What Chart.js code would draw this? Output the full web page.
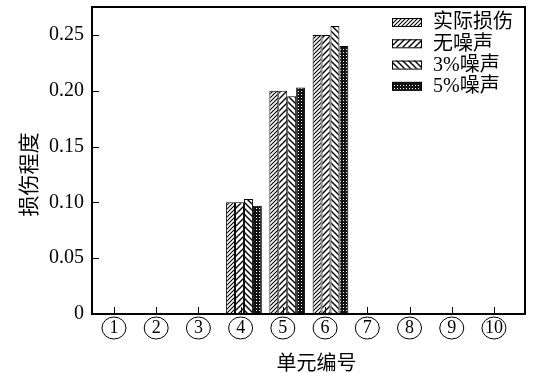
<!DOCTYPE html>
<html><head><meta charset="utf-8">
<script src="https://cdn.jsdelivr.net/npm/chart.js@4.4.1/dist/chart.umd.min.js"></script>
<style>html,body{margin:0;padding:0;background:#fff;}#wrap{width:537px;height:373px;}</style>
</head><body><div id="wrap"><canvas id="c" width="537" height="373"></canvas></div>
<script>
// ---- data ----
const categories = [1, 2, 3, 4, 5, 6, 7, 8, 9, 10];
const seriesNames = ['实际损伤', '无噪声', '3%噪声', '5%噪声'];
const actualDamage = [0, 0, 0, 0.100, 0.200, 0.250, 0, 0, 0, 0];
const noNoise      = [0, 0, 0, 0.100, 0.200, 0.250, 0, 0, 0, 0];
const noise3       = [0, 0, 0, 0.103, 0.195, 0.258, 0, 0, 0, 0];
const noise5       = [0, 0, 0, 0.097, 0.203, 0.240, 0, 0, 0, 0];
const yTickValues  = [0, 0.05, 0.10, 0.15, 0.20, 0.25];
const xTitle = '单元编号';
const yTitle = '损伤程度';

const seriesValues = [actualDamage, noNoise, noise3, noise5];
const SERIF = "'Liberation Serif'";
const CJK = "'Noto Sans CJK SC'";

function makePattern(kind) {
  const s = kind === 'dense' ? 4 : (kind === 'dots' ? 3 : 6);
  const c = document.createElement('canvas'); c.width = s; c.height = s;
  const g = c.getContext('2d');
  if (kind === 'dots') {
    g.fillStyle = '#111'; g.fillRect(0, 0, s, s);
    g.fillStyle = '#fff'; g.fillRect(1, 1, 1, 1);
  } else {
    g.fillStyle = '#fff'; g.fillRect(0, 0, s, s);
    g.strokeStyle = '#000'; g.lineWidth = kind === 'dense' ? 1.1 : 1.4;
    g.beginPath();
    if (kind === 'back') {
      g.moveTo(-1, -1); g.lineTo(s + 1, s + 1);
      g.moveTo(-1, s - 1); g.lineTo(1, s + 1);
      g.moveTo(s - 1, -1); g.lineTo(s + 1, 1);
    } else {
      g.moveTo(-1, s + 1); g.lineTo(s + 1, -1);
      g.moveTo(-1, 1); g.lineTo(1, -1);
      g.moveTo(s - 1, s + 1); g.lineTo(s + 1, s - 1);
    }
    g.stroke();
  }
  return document.getElementById('c').getContext('2d').createPattern(c, 'repeat');
}

const decor = {
  id: 'decor',
  afterDraw(chart) {
    const ctx = chart.ctx, a = chart.chartArea;
    const xs = chart.scales.x, ys = chart.scales.y;
    ctx.save();
    ctx.strokeStyle = '#000';
    ctx.lineWidth = 2;
    ctx.strokeRect(a.left, a.top, a.right - a.left, a.bottom - a.top);
    ctx.lineWidth = 1;
    ctx.beginPath();
    yTickValues.forEach(v => {
      const p = Math.round(ys.getPixelForValue(v)) + 0.5;
      ctx.moveTo(a.left, p); ctx.lineTo(a.left + 7, p);
    });
    categories.forEach(v => {
      const p = Math.round(xs.getPixelForValue(v)) + 0.5;
      ctx.moveTo(p, a.bottom); ctx.lineTo(p, a.bottom - 7);
    });
    ctx.stroke();
    categories.forEach(v => {
      const p = xs.getPixelForValue(v);
      ctx.beginPath();
      ctx.ellipse(p, a.bottom + 14, 12, 11, 0, 0, Math.PI * 2);
      ctx.stroke();
    });
    ctx.fillStyle = '#000';
    ctx.textAlign = 'center'; ctx.textBaseline = 'middle';
    ctx.font = '20px ' + CJK;
    ctx.fillText(xTitle, (a.left + a.right) / 2 + 8, a.bottom + 48);
    ctx.save();
    ctx.translate(28, (a.top + a.bottom) / 2 + 14);
    ctx.rotate(-Math.PI / 2);
    ctx.font = '21px ' + CJK;
    ctx.fillText(yTitle, 0, 0);
    ctx.restore();
    const lx = a.right - 133;
    ctx.font = '20px ' + SERIF + ', ' + CJK;
    ctx.textAlign = 'left';
    chart.data.datasets.forEach((ds, i) => {
      const cy = a.top + 15 + i * 21.3;
      ctx.fillStyle = ds.backgroundColor;
      ctx.fillRect(lx, cy - 4, 30, 8);
      ctx.lineWidth = 1;
      ctx.strokeRect(lx + 0.5, cy - 4 + 0.5, 29, 8);
      ctx.fillStyle = '#000';
      ctx.fillText(ds.label, lx + 41, cy + 1);
    });
    ctx.restore();
  }
};

function build() {
  const patterns = [makePattern('dense'), makePattern('fwd'), makePattern('back'), makePattern('dots')];
  new Chart(document.getElementById('c'), {
    type: 'bar',
    data: {
      datasets: seriesNames.map((name, i) => ({
        label: name,
        data: categories.map((c, j) => ({ x: c, y: seriesValues[i][j] })),
        backgroundColor: patterns[i],
        borderColor: '#000',
        borderWidth: 1,
        xAxisID: 'xb',
        yAxisID: 'y',
        categoryPercentage: 0.826,
        barPercentage: 1
      }))
    },
    options: {
      responsive: false,
      animation: false,
      layout: { padding: { top: 7, right: 12, left: 0, bottom: 0 } },
      plugins: { legend: { display: false }, tooltip: { enabled: false } },
      scales: {
        x: {
          type: 'linear', position: 'bottom', min: 0.48, max: 10.735, offset: false,
          grid: { display: false, drawTicks: false, offset: false }, border: { display: false },
          ticks: {
            stepSize: 1, includeBounds: false, padding: 3, autoSkip: false, maxRotation: 0,
            color: '#000', font: { family: SERIF, size: 18 },
            callback: v => categories.includes(v) ? String(v) : ''
          },
          afterFit: s => { s.height = 59; s.paddingLeft = 0; s.paddingRight = 0; }
        },
        xb: { type: 'linear', position: 'bottom', display: false, min: 0.487, max: 10.497, offset: false, grid: { offset: false } },
        y: {
          min: 0, max: 0.275,
          grid: { display: false, drawTicks: false }, border: { display: false },
          ticks: {
            stepSize: 0.05, includeBounds: false, padding: 8,
            color: '#000', font: { family: SERIF, size: 20 },
            callback: v => v === 0 ? '0' : v.toFixed(2)
          },
          afterFit: s => { s.width = 92; s.paddingTop = 0; s.paddingBottom = 0; }
        }
      }
    },
    plugins: [decor]
  });
}
Chart.defaults.font.family = SERIF;
let built = false;
function go() { if (!built) { built = true; build(); } }
if (document.fonts && document.fonts.load) {
  Promise.all([
    document.fonts.load("20px 'Liberation Serif'", '0.25'),
    document.fonts.load("20px 'Noto Sans CJK SC'", '单元编号')
  ]).then(go, go);
  setTimeout(go, 300);
} else { go(); }
</script>
</body></html>
